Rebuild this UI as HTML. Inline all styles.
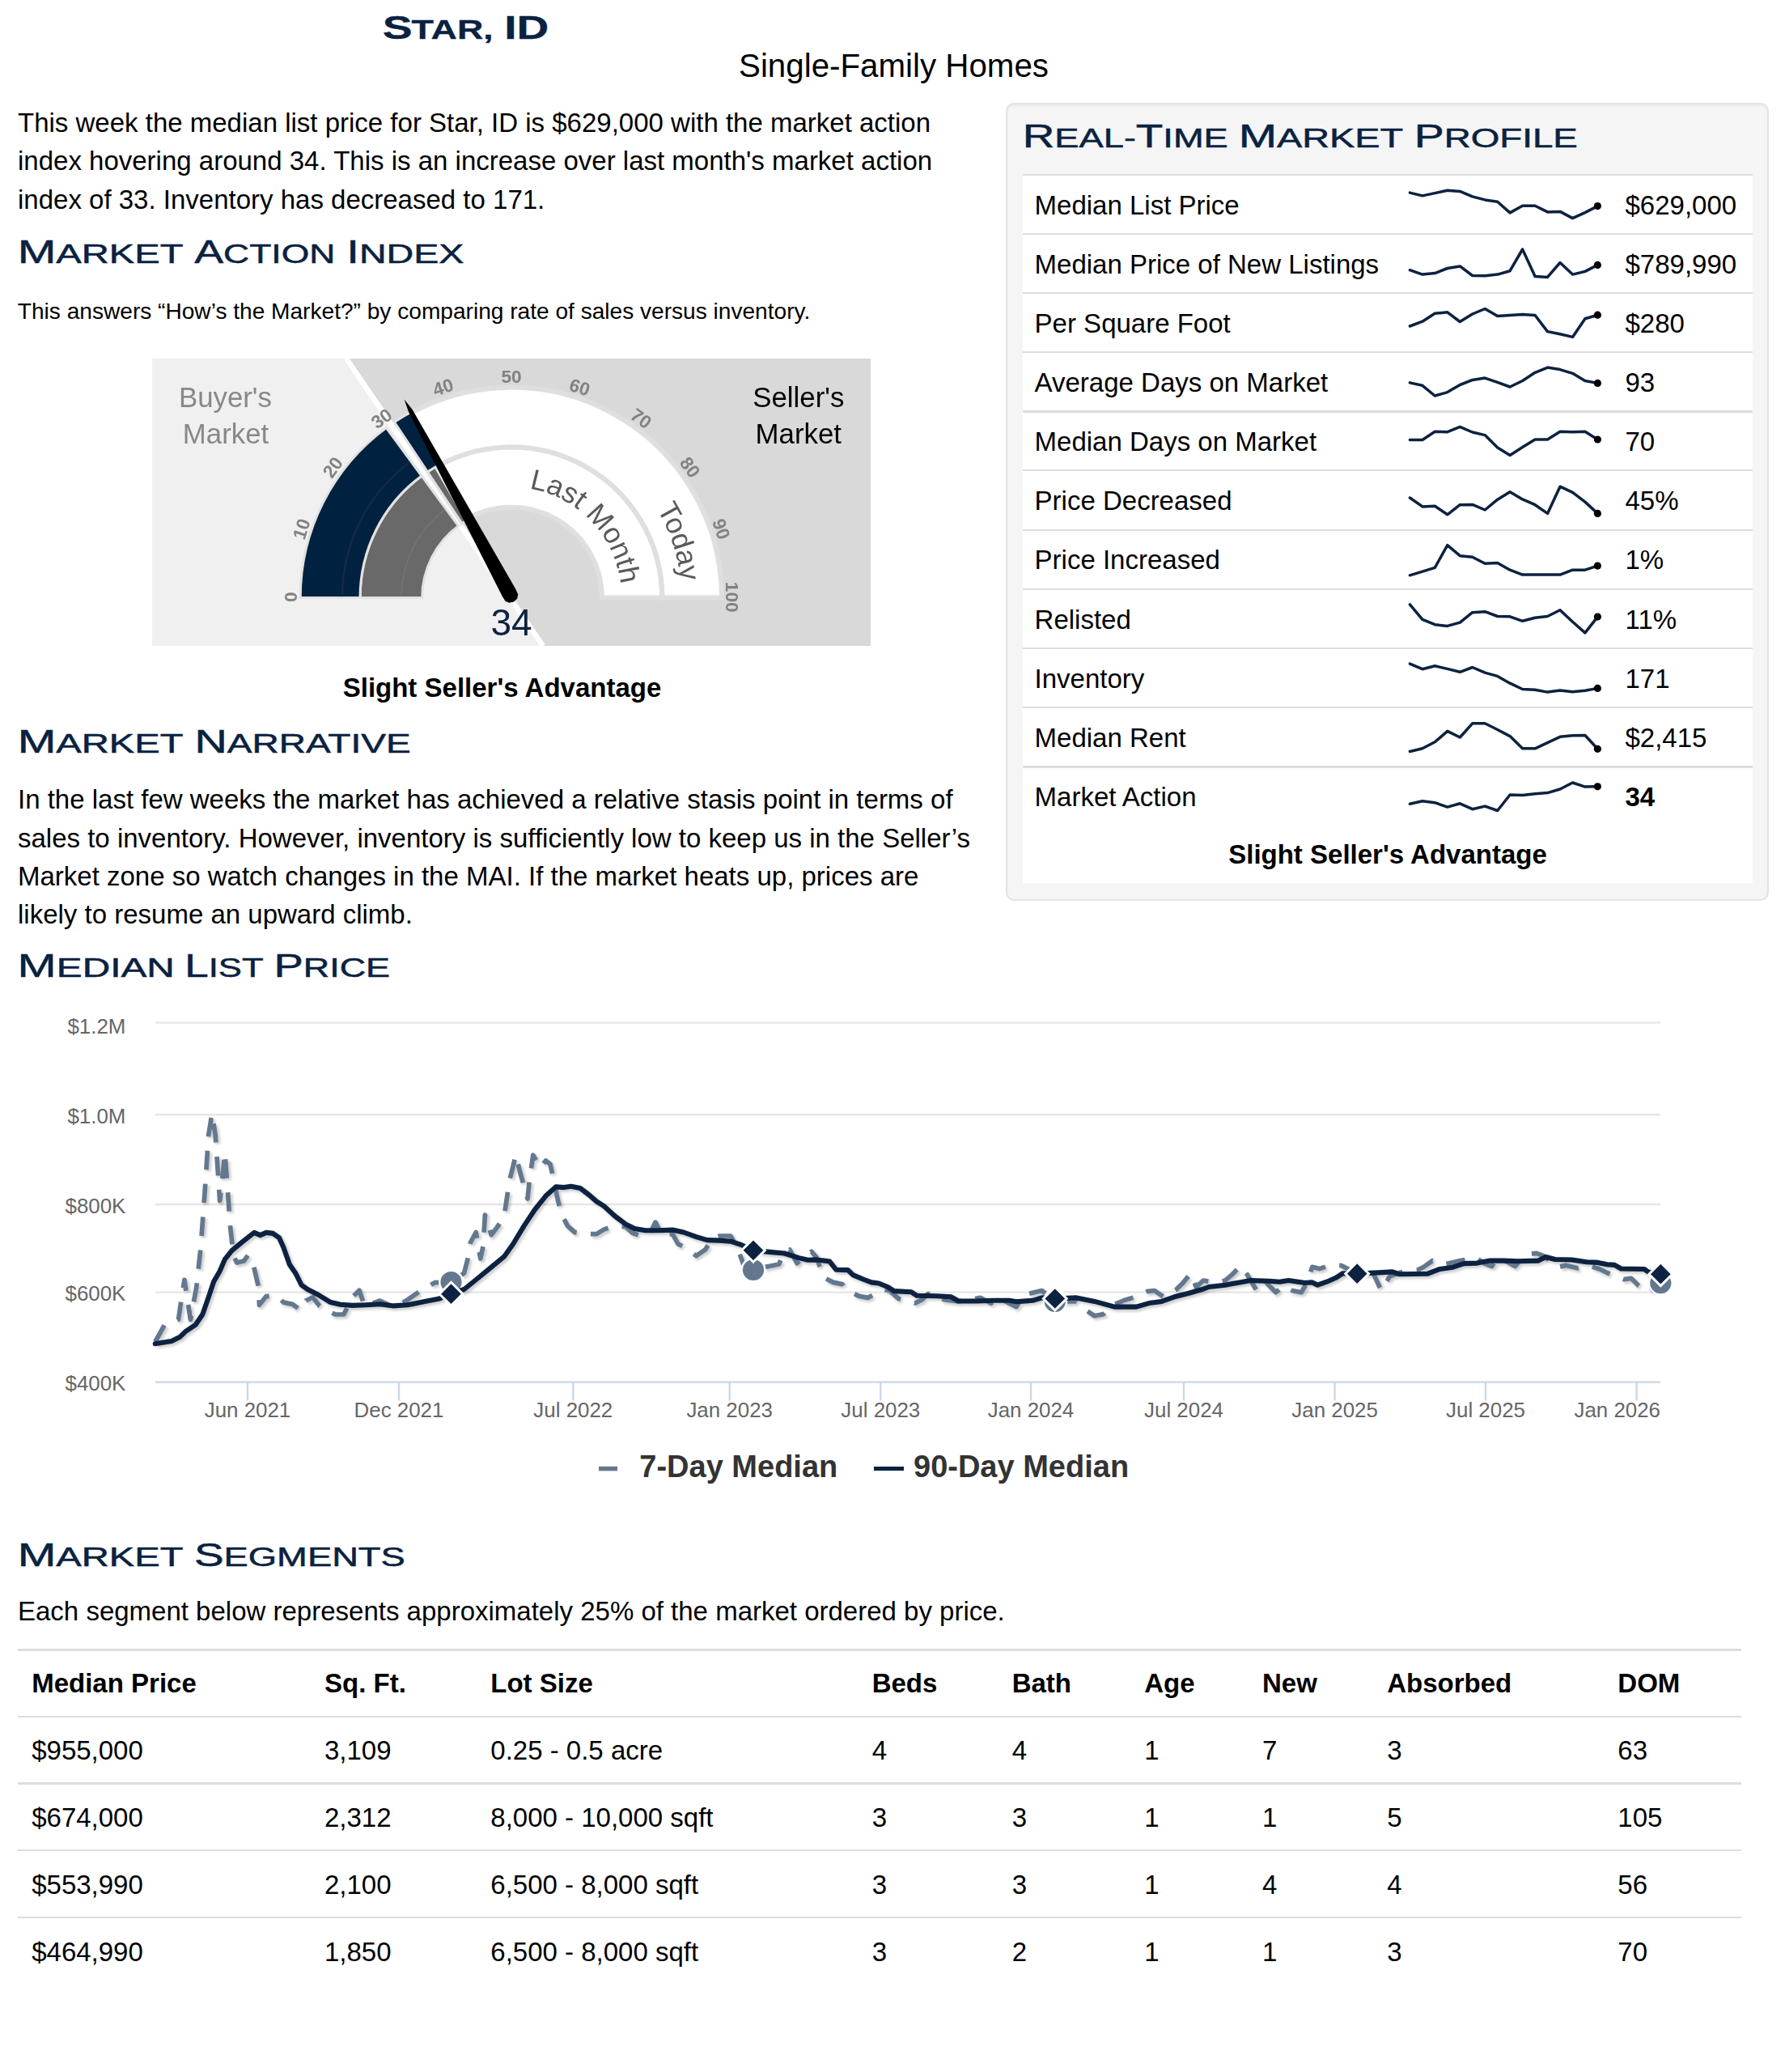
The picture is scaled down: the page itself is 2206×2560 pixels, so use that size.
<!DOCTYPE html>
<html lang="en"><head><meta charset="utf-8"><title>Star, ID - Single-Family Homes</title>
<style>
html,body{margin:0;padding:0;background:#fff;}
body{width:2206px;height:2560px;position:relative;overflow:hidden;font-family:"Liberation Sans",Arial,sans-serif;color:#000;}
.t{position:absolute;white-space:nowrap;margin:0;}
svg{position:absolute;left:0;top:0;overflow:visible;}
svg text{font-family:"Liberation Sans",Arial,sans-serif;}
.well{position:absolute;left:1243px;top:127.4px;width:939.2px;height:981.4px;background:#f5f5f5;border:2.4px solid #e3e3e3;border-radius:10px;box-shadow:inset 0 2px 3px rgba(0,0,0,.05);}
.rows{position:absolute;left:1264px;top:215px;width:901.5px;height:875.8px;background:#fff;}
.hr{position:absolute;height:2.4px;background:#ddd;}
</style></head><body>

<div class="well"></div><div class="rows"></div>
<div class="hr" style="left:1264px;top:214.8px;width:902px"></div>
<div class="hr" style="left:1264px;top:287.6px;width:902px"></div>
<div class="hr" style="left:1264px;top:360.6px;width:902px"></div>
<div class="hr" style="left:1264px;top:434.0px;width:902px"></div>
<div class="hr" style="left:1264px;top:507.3px;width:902px"></div>
<div class="hr" style="left:1264px;top:580.0px;width:902px"></div>
<div class="hr" style="left:1264px;top:653.5px;width:902px"></div>
<div class="hr" style="left:1264px;top:726.8px;width:902px"></div>
<div class="hr" style="left:1264px;top:800.0px;width:902px"></div>
<div class="hr" style="left:1264px;top:873.1px;width:902px"></div>
<div class="hr" style="left:1264px;top:946.4px;width:902px"></div>
<div class="t" style="left:1278.6px;top:233.7px;font-size:33.0px;line-height:39.6px;">Median List Price</div>
<div class="t" style="left:2008.5px;top:233.7px;font-size:33.0px;line-height:39.6px;">$629,000</div>
<div class="t" style="left:1278.6px;top:306.5px;font-size:33.0px;line-height:39.6px;">Median Price of New Listings</div>
<div class="t" style="left:2008.5px;top:306.5px;font-size:33.0px;line-height:39.6px;">$789,990</div>
<div class="t" style="left:1278.6px;top:379.5px;font-size:33.0px;line-height:39.6px;">Per Square Foot</div>
<div class="t" style="left:2008.5px;top:379.5px;font-size:33.0px;line-height:39.6px;">$280</div>
<div class="t" style="left:1278.6px;top:452.9px;font-size:33.0px;line-height:39.6px;">Average Days on Market</div>
<div class="t" style="left:2008.5px;top:452.9px;font-size:33.0px;line-height:39.6px;">93</div>
<div class="t" style="left:1278.6px;top:526.2px;font-size:33.0px;line-height:39.6px;">Median Days on Market</div>
<div class="t" style="left:2008.5px;top:526.2px;font-size:33.0px;line-height:39.6px;">70</div>
<div class="t" style="left:1278.6px;top:598.9px;font-size:33.0px;line-height:39.6px;">Price Decreased</div>
<div class="t" style="left:2008.5px;top:598.9px;font-size:33.0px;line-height:39.6px;">45%</div>
<div class="t" style="left:1278.6px;top:672.4px;font-size:33.0px;line-height:39.6px;">Price Increased</div>
<div class="t" style="left:2008.5px;top:672.4px;font-size:33.0px;line-height:39.6px;">1%</div>
<div class="t" style="left:1278.6px;top:745.7px;font-size:33.0px;line-height:39.6px;">Relisted</div>
<div class="t" style="left:2008.5px;top:745.7px;font-size:33.0px;line-height:39.6px;">11%</div>
<div class="t" style="left:1278.6px;top:818.9px;font-size:33.0px;line-height:39.6px;">Inventory</div>
<div class="t" style="left:2008.5px;top:818.9px;font-size:33.0px;line-height:39.6px;">171</div>
<div class="t" style="left:1278.6px;top:892.0px;font-size:33.0px;line-height:39.6px;">Median Rent</div>
<div class="t" style="left:2008.5px;top:892.0px;font-size:33.0px;line-height:39.6px;">$2,415</div>
<div class="t" style="left:1278.6px;top:965.3px;font-size:33.0px;line-height:39.6px;">Market Action</div>
<div class="t" style="left:2008.5px;top:965.3px;font-size:33.0px;line-height:39.6px;font-weight:bold;">34</div>
<div class="t" style="left:1715.0px;top:1035.5px;font-size:33.0px;line-height:39.6px;font-weight:bold;transform:translateX(-50%);">Slight Seller's Advantage</div>
<div class="t" style="left:1104.5px;top:57.9px;font-size:40.3px;line-height:48.4px;transform:translateX(-50%);">Single-Family Homes</div>
<div class="t" style="left:22.0px;top:132.3px;font-size:33.0px;line-height:39.6px;">This week the median list price for Star, ID is $629,000 with the market action</div>
<div class="t" style="left:22.0px;top:179.4px;font-size:33.0px;line-height:39.6px;">index hovering around 34. This is an increase over last month's market action</div>
<div class="t" style="left:22.0px;top:226.5px;font-size:33.0px;line-height:39.6px;">index of 33. Inventory has decreased to 171.</div>
<div class="t" style="left:21.8px;top:367.9px;font-size:28.1px;line-height:33.7px;">This answers “How’s the Market?” by comparing rate of sales versus inventory.</div>
<div class="t" style="left:620.5px;top:830.1px;font-size:33.0px;line-height:39.6px;font-weight:bold;transform:translateX(-50%);">Slight Seller's Advantage</div>
<div class="t" style="left:22.0px;top:968.3px;font-size:33.0px;line-height:39.6px;">In the last few weeks the market has achieved a relative stasis point in terms of</div>
<div class="t" style="left:22.0px;top:1015.5px;font-size:33.0px;line-height:39.6px;">sales to inventory. However, inventory is sufficiently low to keep us in the Seller’s</div>
<div class="t" style="left:22.0px;top:1062.7px;font-size:33.0px;line-height:39.6px;">Market zone so watch changes in the MAI. If the market heats up, prices are</div>
<div class="t" style="left:22.0px;top:1109.9px;font-size:33.0px;line-height:39.6px;">likely to resume an upward climb.</div>
<div class="t" style="left:22.0px;top:1970.6px;font-size:33.0px;line-height:39.6px;">Each segment below represents approximately 25% of the market ordered by price.</div>
<div class="hr" style="left:22px;top:2037.3px;width:2130px"></div>
<div class="hr" style="left:22px;top:2120.0px;width:2130px"></div>
<div class="hr" style="left:22px;top:2202.4px;width:2130px"></div>
<div class="hr" style="left:22px;top:2285.0px;width:2130px"></div>
<div class="hr" style="left:22px;top:2367.6px;width:2130px"></div>
<div class="t" style="left:39.2px;top:2060.1px;font-size:33.0px;line-height:39.6px;font-weight:bold;">Median Price</div>
<div class="t" style="left:401.0px;top:2060.1px;font-size:33.0px;line-height:39.6px;font-weight:bold;">Sq. Ft.</div>
<div class="t" style="left:606.3px;top:2060.1px;font-size:33.0px;line-height:39.6px;font-weight:bold;">Lot Size</div>
<div class="t" style="left:1077.7px;top:2060.1px;font-size:33.0px;line-height:39.6px;font-weight:bold;">Beds</div>
<div class="t" style="left:1250.7px;top:2060.1px;font-size:33.0px;line-height:39.6px;font-weight:bold;">Bath</div>
<div class="t" style="left:1414.2px;top:2060.1px;font-size:33.0px;line-height:39.6px;font-weight:bold;">Age</div>
<div class="t" style="left:1560.0px;top:2060.1px;font-size:33.0px;line-height:39.6px;font-weight:bold;">New</div>
<div class="t" style="left:1714.2px;top:2060.1px;font-size:33.0px;line-height:39.6px;font-weight:bold;">Absorbed</div>
<div class="t" style="left:1999.3px;top:2060.1px;font-size:33.0px;line-height:39.6px;font-weight:bold;">DOM</div>
<div class="t" style="left:39.2px;top:2142.8px;font-size:33.0px;line-height:39.6px;">$955,000</div>
<div class="t" style="left:401.0px;top:2142.8px;font-size:33.0px;line-height:39.6px;">3,109</div>
<div class="t" style="left:606.3px;top:2142.8px;font-size:33.0px;line-height:39.6px;">0.25 - 0.5 acre</div>
<div class="t" style="left:1077.7px;top:2142.8px;font-size:33.0px;line-height:39.6px;">4</div>
<div class="t" style="left:1250.7px;top:2142.8px;font-size:33.0px;line-height:39.6px;">4</div>
<div class="t" style="left:1414.2px;top:2142.8px;font-size:33.0px;line-height:39.6px;">1</div>
<div class="t" style="left:1560.0px;top:2142.8px;font-size:33.0px;line-height:39.6px;">7</div>
<div class="t" style="left:1714.2px;top:2142.8px;font-size:33.0px;line-height:39.6px;">3</div>
<div class="t" style="left:1999.3px;top:2142.8px;font-size:33.0px;line-height:39.6px;">63</div>
<div class="t" style="left:39.2px;top:2225.6px;font-size:33.0px;line-height:39.6px;">$674,000</div>
<div class="t" style="left:401.0px;top:2225.6px;font-size:33.0px;line-height:39.6px;">2,312</div>
<div class="t" style="left:606.3px;top:2225.6px;font-size:33.0px;line-height:39.6px;">8,000 - 10,000 sqft</div>
<div class="t" style="left:1077.7px;top:2225.6px;font-size:33.0px;line-height:39.6px;">3</div>
<div class="t" style="left:1250.7px;top:2225.6px;font-size:33.0px;line-height:39.6px;">3</div>
<div class="t" style="left:1414.2px;top:2225.6px;font-size:33.0px;line-height:39.6px;">1</div>
<div class="t" style="left:1560.0px;top:2225.6px;font-size:33.0px;line-height:39.6px;">1</div>
<div class="t" style="left:1714.2px;top:2225.6px;font-size:33.0px;line-height:39.6px;">5</div>
<div class="t" style="left:1999.3px;top:2225.6px;font-size:33.0px;line-height:39.6px;">105</div>
<div class="t" style="left:39.2px;top:2308.8px;font-size:33.0px;line-height:39.6px;">$553,990</div>
<div class="t" style="left:401.0px;top:2308.8px;font-size:33.0px;line-height:39.6px;">2,100</div>
<div class="t" style="left:606.3px;top:2308.8px;font-size:33.0px;line-height:39.6px;">6,500 - 8,000 sqft</div>
<div class="t" style="left:1077.7px;top:2308.8px;font-size:33.0px;line-height:39.6px;">3</div>
<div class="t" style="left:1250.7px;top:2308.8px;font-size:33.0px;line-height:39.6px;">3</div>
<div class="t" style="left:1414.2px;top:2308.8px;font-size:33.0px;line-height:39.6px;">1</div>
<div class="t" style="left:1560.0px;top:2308.8px;font-size:33.0px;line-height:39.6px;">4</div>
<div class="t" style="left:1714.2px;top:2308.8px;font-size:33.0px;line-height:39.6px;">4</div>
<div class="t" style="left:1999.3px;top:2308.8px;font-size:33.0px;line-height:39.6px;">56</div>
<div class="t" style="left:39.2px;top:2391.6px;font-size:33.0px;line-height:39.6px;">$464,990</div>
<div class="t" style="left:401.0px;top:2391.6px;font-size:33.0px;line-height:39.6px;">1,850</div>
<div class="t" style="left:606.3px;top:2391.6px;font-size:33.0px;line-height:39.6px;">6,500 - 8,000 sqft</div>
<div class="t" style="left:1077.7px;top:2391.6px;font-size:33.0px;line-height:39.6px;">3</div>
<div class="t" style="left:1250.7px;top:2391.6px;font-size:33.0px;line-height:39.6px;">2</div>
<div class="t" style="left:1414.2px;top:2391.6px;font-size:33.0px;line-height:39.6px;">1</div>
<div class="t" style="left:1560.0px;top:2391.6px;font-size:33.0px;line-height:39.6px;">1</div>
<div class="t" style="left:1714.2px;top:2391.6px;font-size:33.0px;line-height:39.6px;">3</div>
<div class="t" style="left:1999.3px;top:2391.6px;font-size:33.0px;line-height:39.6px;">70</div>
<svg width="2206" height="2560" viewBox="0 0 2206 2560">
<defs><filter id="soft" x="-5%" y="-5%" width="110%" height="110%"><feGaussianBlur stdDeviation="0.7"/></filter><filter id="sh" x="-5%" y="-20%" width="110%" height="140%"><feGaussianBlur stdDeviation="1.6"/></filter></defs>
<text y="47.9" font-weight="bold" fill="#0a2240" stroke="#0a2240" stroke-width="0.3"><tspan x="472.78" textLength="36.87" lengthAdjust="spacingAndGlyphs"><tspan font-size="40.4">S</tspan></tspan><tspan x="508.48" textLength="101.08" lengthAdjust="spacingAndGlyphs"><tspan font-size="46.429" style="font-variant:small-caps">tar</tspan><tspan font-size="32.5">,</tspan></tspan> <tspan x="623.19" textLength="55.01" lengthAdjust="spacingAndGlyphs"><tspan font-size="40.4">ID</tspan></tspan></text>
<text y="324.7" font-weight="normal" fill="#0a2240" stroke="#0a2240" stroke-width="0.5"><tspan x="21.68" textLength="204.95" lengthAdjust="spacingAndGlyphs"><tspan font-size="40.0">M</tspan><tspan font-size="46.571" style="font-variant:small-caps">arket</tspan></tspan> <tspan x="240.20" textLength="174.06" lengthAdjust="spacingAndGlyphs"><tspan font-size="40.0">A</tspan><tspan font-size="46.571" style="font-variant:small-caps">ction</tspan></tspan> <tspan x="428.25" textLength="145.19" lengthAdjust="spacingAndGlyphs"><tspan font-size="40.0">I</tspan><tspan font-size="46.571" style="font-variant:small-caps">ndex</tspan></tspan></text>
<text y="181.6" font-weight="normal" fill="#0a2240" stroke="#0a2240" stroke-width="0.5"><tspan x="1263.70" textLength="254.13" lengthAdjust="spacingAndGlyphs"><tspan font-size="40.0">R</tspan><tspan font-size="46.571" style="font-variant:small-caps">eal</tspan><tspan font-size="32.6">-</tspan><tspan font-size="40.0">T</tspan><tspan font-size="46.571" style="font-variant:small-caps">ime</tspan></tspan> <tspan x="1530.69" textLength="203.52" lengthAdjust="spacingAndGlyphs"><tspan font-size="40.0">M</tspan><tspan font-size="46.571" style="font-variant:small-caps">arket</tspan></tspan> <tspan x="1747.69" textLength="202.16" lengthAdjust="spacingAndGlyphs"><tspan font-size="40.0">P</tspan><tspan font-size="46.571" style="font-variant:small-caps">rofile</tspan></tspan></text>
<text y="930.4" font-weight="normal" fill="#0a2240" stroke="#0a2240" stroke-width="0.5"><tspan x="21.68" textLength="204.95" lengthAdjust="spacingAndGlyphs"><tspan font-size="40.0">M</tspan><tspan font-size="46.571" style="font-variant:small-caps">arket</tspan></tspan> <tspan x="240.50" textLength="267.15" lengthAdjust="spacingAndGlyphs"><tspan font-size="40.0">N</tspan><tspan font-size="46.571" style="font-variant:small-caps">arrative</tspan></tspan></text>
<text y="1207.2" font-weight="normal" fill="#0a2240" stroke="#0a2240" stroke-width="0.5"><tspan x="21.60" textLength="194.15" lengthAdjust="spacingAndGlyphs"><tspan font-size="40.0">M</tspan><tspan font-size="46.571" style="font-variant:small-caps">edian</tspan></tspan> <tspan x="228.23" textLength="97.40" lengthAdjust="spacingAndGlyphs"><tspan font-size="40.0">L</tspan><tspan font-size="46.571" style="font-variant:small-caps">ist</tspan></tspan> <tspan x="338.40" textLength="143.66" lengthAdjust="spacingAndGlyphs"><tspan font-size="40.0">P</tspan><tspan font-size="46.571" style="font-variant:small-caps">rice</tspan></tspan></text>
<text y="1934.7" font-weight="normal" fill="#0a2240" stroke="#0a2240" stroke-width="0.5"><tspan x="21.68" textLength="204.95" lengthAdjust="spacingAndGlyphs"><tspan font-size="40.0">M</tspan><tspan font-size="46.571" style="font-variant:small-caps">arket</tspan></tspan> <tspan x="239.97" textLength="260.85" lengthAdjust="spacingAndGlyphs"><tspan font-size="40.0">S</tspan><tspan font-size="46.571" style="font-variant:small-caps">egments</tspan></tspan></text>
<g filter="url(#soft)">
<rect x="188" y="443" width="888" height="355" fill="#d9d9d9"/>
<polygon points="188,443 428.0,443 671.0,798 188,798" fill="#f0f0f0"/>
<line x1="428" y1="443" x2="671" y2="798" stroke="#fff" stroke-width="6.6"/>
<path d="M529.8 583.0 A186.2 186.2 0 0 1 818.2 738.6 L743.9 738.6 A111.9 111.9 0 0 0 570.6 645.1 Z" fill="#fff" stroke="#dfdfdf" stroke-width="6"/>
<path d="M489.3 521.3 A260.0 260.0 0 0 1 892.0 738.6 L818.4 738.6 A186.4 186.4 0 0 0 529.7 582.8 Z" fill="#fff" stroke="#dfdfdf" stroke-width="6"/>
<path d="M445.1 738.6 A186.9 186.9 0 0 1 521.2 588.1 L566.6 649.8 A110.3 110.3 0 0 0 521.7 738.6 Z" fill="#696969" stroke="#e2e2e2" stroke-width="3"/>
<path d="M528.4 583.0 A186.9 186.9 0 0 1 537.9 577.1 L576.5 643.3 A110.3 110.3 0 0 0 570.9 646.8 Z" fill="#696969" stroke="#e2e2e2" stroke-width="3"/>
<path d="M371.2 738.6 A260.8 260.8 0 0 1 477.4 528.6 L521.1 588.0 A187.0 187.0 0 0 0 445.0 738.6 Z" fill="#06213f" stroke="#e2e2e2" stroke-width="3"/>
<path d="M487.4 521.5 A260.8 260.8 0 0 1 507.8 509.3 L542.9 574.2 A187.0 187.0 0 0 0 528.4 583.0 Z" fill="#06213f" stroke="#e2e2e2" stroke-width="3"/>
<path d="M423.0 735.8 A209.0 209.0 0 0 1 506.5 570.7" fill="none" stroke="#122b4a" stroke-width="2"/>
<path d="M496.0 735.7 A136.0 136.0 0 0 1 549.7 629.6" fill="none" stroke="#727272" stroke-width="2"/>
<path id="arcLM" d="M496.0 737.8 A136 136 0 0 1 768.0 737.8" fill="none"/>
<path id="arcTD" d="M422.0 737.8 A210 210 0 0 1 842.0 737.8" fill="none"/>
<text font-size="35.5" fill="#5a5a5a" text-anchor="end"><textPath href="#arcLM" startOffset="96.3%">Last Month</textPath></text>
<text font-size="35.5" fill="#5a5a5a" text-anchor="end"><textPath href="#arcTD" startOffset="97%">Today</textPath></text>
<text x="359.0" y="737.8" font-size="22.7" font-weight="bold" fill="#828282" text-anchor="middle" dy="0.355em" transform="rotate(-90.0 359.0 737.8)">0</text>
<text x="372.4" y="653.4" font-size="22.7" font-weight="bold" fill="#828282" text-anchor="middle" dy="0.355em" transform="rotate(-72.0 372.4 653.4)">10</text>
<text x="411.1" y="577.3" font-size="22.7" font-weight="bold" fill="#828282" text-anchor="middle" dy="0.355em" transform="rotate(-54.0 411.1 577.3)">20</text>
<text x="471.5" y="516.9" font-size="22.7" font-weight="bold" fill="#828282" text-anchor="middle" dy="0.355em" transform="rotate(-36.0 471.5 516.9)">30</text>
<text x="547.6" y="478.2" font-size="22.7" font-weight="bold" fill="#828282" text-anchor="middle" dy="0.355em" transform="rotate(-18.0 547.6 478.2)">40</text>
<text x="632.0" y="464.8" font-size="22.7" font-weight="bold" fill="#828282" text-anchor="middle" dy="0.355em" transform="rotate(0.0 632.0 464.8)">50</text>
<text x="716.4" y="478.2" font-size="22.7" font-weight="bold" fill="#828282" text-anchor="middle" dy="0.355em" transform="rotate(18.0 716.4 478.2)">60</text>
<text x="792.5" y="516.9" font-size="22.7" font-weight="bold" fill="#828282" text-anchor="middle" dy="0.355em" transform="rotate(36.0 792.5 516.9)">70</text>
<text x="852.9" y="577.3" font-size="22.7" font-weight="bold" fill="#828282" text-anchor="middle" dy="0.355em" transform="rotate(54.0 852.9 577.3)">80</text>
<text x="891.6" y="653.4" font-size="22.7" font-weight="bold" fill="#828282" text-anchor="middle" dy="0.355em" transform="rotate(72.0 891.6 653.4)">90</text>
<text x="905.0" y="737.8" font-size="22.7" font-weight="bold" fill="#828282" text-anchor="middle" dy="0.355em" transform="rotate(90.0 905.0 737.8)">100</text>
<polygon points="499.6,493.4 509.6,506.1 637.4,728.0 640.2,734.5 639.2,739.6 635.1,743.5 629.5,744.8 624.7,742.9 620.9,737.0 504.9,508.7" fill="#000"/>
<text x="632" y="784.7" font-size="46" fill="#0a2240" text-anchor="middle">34</text>
<text x="278.4" y="502.8" font-size="34.8" fill="#888" text-anchor="middle">Buyer's</text>
<text x="279.0" y="547.7" font-size="34.8" fill="#888" text-anchor="middle">Market</text>
<text x="986.8" y="503.4" font-size="34.8" fill="#000" text-anchor="middle">Seller's</text>
<text x="986.8" y="547.6" font-size="34.8" fill="#000" text-anchor="middle">Market</text>
</g>
<g filter="url(#soft)">
<polyline points="1742.4,238.1 1757.9,241.9 1773.3,238.6 1788.8,235.2 1804.3,236.4 1819.7,242.9 1835.2,246.9 1850.7,249.2 1866.1,262.9 1881.6,254.2 1897.1,254.2 1912.5,261.9 1928.0,261.4 1943.5,269.6 1958.9,262.6 1974.4,254.6" fill="none" stroke="#0a2240" stroke-width="3.5" stroke-linejoin="round" stroke-linecap="round"/>
<circle cx="1974.4" cy="254.6" r="4.6" fill="#000"/>
<polyline points="1742.4,333.7 1757.9,339.1 1773.3,337.6 1788.8,331.5 1804.3,328.9 1819.7,340.5 1835.2,340.8 1850.7,339.1 1866.1,334.7 1881.6,308.0 1897.1,341.5 1912.5,342.4 1928.0,324.5 1943.5,339.1 1958.9,335.4 1974.4,327.4" fill="none" stroke="#0a2240" stroke-width="3.5" stroke-linejoin="round" stroke-linecap="round"/>
<circle cx="1974.4" cy="327.4" r="4.6" fill="#000"/>
<polyline points="1742.4,403.0 1757.9,397.2 1773.3,387.3 1788.8,385.8 1804.3,397.5 1819.7,388.0 1835.2,381.5 1850.7,390.6 1866.1,389.5 1881.6,388.5 1897.1,389.5 1912.5,409.6 1928.0,412.8 1943.5,416.4 1958.9,393.8 1974.4,389.2" fill="none" stroke="#0a2240" stroke-width="3.5" stroke-linejoin="round" stroke-linecap="round"/>
<circle cx="1974.4" cy="389.2" r="4.6" fill="#000"/>
<polyline points="1742.4,472.9 1757.9,476.3 1773.3,489.0 1788.8,484.6 1804.3,475.5 1819.7,469.4 1835.2,467.1 1850.7,472.3 1866.1,478.0 1881.6,470.5 1897.1,460.3 1912.5,454.1 1928.0,456.6 1943.5,461.3 1958.9,470.5 1974.4,473.4" fill="none" stroke="#0a2240" stroke-width="3.5" stroke-linejoin="round" stroke-linecap="round"/>
<circle cx="1974.4" cy="473.4" r="4.6" fill="#000"/>
<polyline points="1742.4,543.5 1757.9,543.5 1773.3,533.3 1788.8,533.7 1804.3,527.4 1819.7,534.0 1835.2,537.6 1850.7,552.9 1866.1,562.4 1881.6,552.6 1897.1,543.0 1912.5,543.0 1928.0,533.3 1943.5,533.7 1958.9,533.3 1974.4,543.0" fill="none" stroke="#0a2240" stroke-width="3.5" stroke-linejoin="round" stroke-linecap="round"/>
<circle cx="1974.4" cy="543.0" r="4.6" fill="#000"/>
<polyline points="1742.4,615.0 1757.9,625.9 1773.3,625.2 1788.8,635.8 1804.3,623.7 1819.7,623.4 1835.2,630.0 1850.7,617.2 1866.1,607.7 1881.6,616.9 1897.1,623.7 1912.5,634.4 1928.0,601.2 1943.5,608.4 1958.9,620.1 1974.4,634.4" fill="none" stroke="#0a2240" stroke-width="3.5" stroke-linejoin="round" stroke-linecap="round"/>
<circle cx="1974.4" cy="634.4" r="4.6" fill="#000"/>
<polyline points="1742.4,710.8 1757.9,706.1 1773.3,701.3 1788.8,673.6 1804.3,686.7 1819.7,688.2 1835.2,696.2 1850.7,695.5 1866.1,704.2 1881.6,710.1 1897.1,710.1 1912.5,710.1 1928.0,710.1 1943.5,704.2 1958.9,704.2 1974.4,699.1" fill="none" stroke="#0a2240" stroke-width="3.5" stroke-linejoin="round" stroke-linecap="round"/>
<circle cx="1974.4" cy="699.1" r="4.6" fill="#000"/>
<polyline points="1742.4,746.9 1757.9,765.4 1773.3,771.7 1788.8,773.4 1804.3,769.1 1819.7,756.7 1835.2,755.7 1850.7,761.5 1866.1,761.8 1881.6,767.3 1897.1,763.3 1912.5,761.5 1928.0,753.8 1943.5,768.3 1958.9,781.9 1974.4,762.1" fill="none" stroke="#0a2240" stroke-width="3.5" stroke-linejoin="round" stroke-linecap="round"/>
<circle cx="1974.4" cy="762.1" r="4.6" fill="#000"/>
<polyline points="1742.4,820.1 1757.9,826.7 1773.3,822.8 1788.8,826.4 1804.3,830.3 1819.7,824.5 1835.2,831.1 1850.7,835.4 1866.1,844.2 1881.6,851.5 1897.1,852.2 1912.5,855.1 1928.0,852.9 1943.5,854.8 1958.9,853.3 1974.4,850.4" fill="none" stroke="#0a2240" stroke-width="3.5" stroke-linejoin="round" stroke-linecap="round"/>
<circle cx="1974.4" cy="850.4" r="4.6" fill="#000"/>
<polyline points="1742.4,928.5 1757.9,924.8 1773.3,916.8 1788.8,903.4 1804.3,911.0 1819.7,893.8 1835.2,893.8 1850.7,901.5 1866.1,909.6 1881.6,924.8 1897.1,924.8 1912.5,917.6 1928.0,910.3 1943.5,908.8 1958.9,908.5 1974.4,925.3" fill="none" stroke="#0a2240" stroke-width="3.5" stroke-linejoin="round" stroke-linecap="round"/>
<circle cx="1974.4" cy="925.3" r="4.6" fill="#000"/>
<polyline points="1742.4,993.2 1757.9,989.8 1773.3,991.7 1788.8,997.1 1804.3,992.8 1819.7,999.7 1835.2,996.1 1850.7,1001.5 1866.1,982.0 1881.6,982.6 1897.1,980.8 1912.5,979.6 1928.0,975.0 1943.5,967.0 1958.9,972.1 1974.4,971.8" fill="none" stroke="#0a2240" stroke-width="3.5" stroke-linejoin="round" stroke-linecap="round"/>
<circle cx="1974.4" cy="971.8" r="4.6" fill="#000"/>
</g>
<g>
<line x1="192" y1="1263.6" x2="2052" y2="1263.6" stroke="#e6e6e6" stroke-width="2.4"/>
<line x1="192" y1="1377.2" x2="2052" y2="1377.2" stroke="#e6e6e6" stroke-width="2.4"/>
<line x1="192" y1="1488.0" x2="2052" y2="1488.0" stroke="#e6e6e6" stroke-width="2.4"/>
<line x1="192" y1="1596.6" x2="2052" y2="1596.6" stroke="#e6e6e6" stroke-width="2.4"/>
<line x1="192" y1="1707.6" x2="2052" y2="1707.6" stroke="#ccd6eb" stroke-width="2.4"/>
<line x1="306.0" y1="1707.6" x2="306.0" y2="1730.5" stroke="#ccd6eb" stroke-width="2.4"/>
<line x1="493.0" y1="1707.6" x2="493.0" y2="1730.5" stroke="#ccd6eb" stroke-width="2.4"/>
<line x1="708.3" y1="1707.6" x2="708.3" y2="1730.5" stroke="#ccd6eb" stroke-width="2.4"/>
<line x1="901.7" y1="1707.6" x2="901.7" y2="1730.5" stroke="#ccd6eb" stroke-width="2.4"/>
<line x1="1088.3" y1="1707.6" x2="1088.3" y2="1730.5" stroke="#ccd6eb" stroke-width="2.4"/>
<line x1="1274.0" y1="1707.6" x2="1274.0" y2="1730.5" stroke="#ccd6eb" stroke-width="2.4"/>
<line x1="1463.0" y1="1707.6" x2="1463.0" y2="1730.5" stroke="#ccd6eb" stroke-width="2.4"/>
<line x1="1649.6" y1="1707.6" x2="1649.6" y2="1730.5" stroke="#ccd6eb" stroke-width="2.4"/>
<line x1="1836.0" y1="1707.6" x2="1836.0" y2="1730.5" stroke="#ccd6eb" stroke-width="2.4"/>
<line x1="2022.6" y1="1707.6" x2="2022.6" y2="1730.5" stroke="#ccd6eb" stroke-width="2.4"/>
<text x="155.4" y="1276.5" font-size="25.9" fill="#666" text-anchor="end">$1.2M</text>
<text x="155.4" y="1387.7" font-size="25.9" fill="#666" text-anchor="end">$1.0M</text>
<text x="155.4" y="1498.5" font-size="25.9" fill="#666" text-anchor="end">$800K</text>
<text x="155.4" y="1607.1" font-size="25.9" fill="#666" text-anchor="end">$600K</text>
<text x="155.4" y="1718.1" font-size="25.9" fill="#666" text-anchor="end">$400K</text>
<text x="306.0" y="1751" font-size="25.9" fill="#666" text-anchor="middle">Jun 2021</text>
<text x="493.0" y="1751" font-size="25.9" fill="#666" text-anchor="middle">Dec 2021</text>
<text x="708.3" y="1751" font-size="25.9" fill="#666" text-anchor="middle">Jul 2022</text>
<text x="901.7" y="1751" font-size="25.9" fill="#666" text-anchor="middle">Jan 2023</text>
<text x="1088.3" y="1751" font-size="25.9" fill="#666" text-anchor="middle">Jul 2023</text>
<text x="1274.0" y="1751" font-size="25.9" fill="#666" text-anchor="middle">Jan 2024</text>
<text x="1463.0" y="1751" font-size="25.9" fill="#666" text-anchor="middle">Jul 2024</text>
<text x="1649.6" y="1751" font-size="25.9" fill="#666" text-anchor="middle">Jan 2025</text>
<text x="1836.0" y="1751" font-size="25.9" fill="#666" text-anchor="middle">Jul 2025</text>
<text x="2052" y="1751" font-size="25.9" fill="#666" text-anchor="end">Jan 2026</text>
<g filter="url(#sh)" opacity="0.18" transform="translate(2.3,2.3)">
<polyline points="191.7,1658.0 203.4,1636.8 220.5,1630.4 223.6,1609.0 227.9,1581.4 235.4,1630.4 242.8,1590.0 248.1,1541.0 253.5,1466.5 257.7,1402.6 262.0,1376.0 266.2,1402.6 269.4,1449.4 271.6,1483.5 274.7,1458.0 277.9,1423.9 281.1,1466.5 284.3,1513.3 288.6,1551.6 292.8,1560.1 301.4,1558.0 306.7,1550.6 313.0,1562.3 319.5,1590.0 320.5,1612.3 329.0,1601.6 341.8,1600.6 350.3,1609.1 361.0,1611.2 371.6,1618.7 378.0,1607.0 386.5,1602.7 395.0,1613.4 405.7,1619.7 414.2,1624.0 424.8,1624.0 429.1,1615.5 434.4,1603.8 444.0,1594.2 450.4,1613.4 469.5,1607.0 486.6,1615.5 503.6,1605.9 520.6,1594.2 537.7,1584.6 557.5,1584.0 573.6,1572.9 578.1,1555.0 581.5,1534.8 588.2,1522.5 593.8,1555.0 597.1,1539.3 599.4,1501.2 607.2,1525.8 613.9,1516.9 622.9,1503.4 626.3,1481.0 629.6,1458.6 637.5,1427.2 643.1,1449.6 652.0,1481.0 654.3,1458.6 658.8,1427.2 667.7,1442.9 674.5,1433.9 680.0,1438.4 684.5,1458.6 689.0,1481.0 693.5,1498.9 701.3,1514.6 710.3,1522.5 723.8,1524.7 737.2,1524.7 746.2,1519.1 759.6,1514.6 773.1,1515.7 782.0,1523.6 793.2,1527.0 802.2,1525.8 810.0,1510.1 817.9,1525.8 831.3,1524.7 838.0,1537.0 849.2,1542.6 860.4,1551.6 871.6,1543.8 880.6,1530.3 889.6,1527.0 903.0,1527.0 912.0,1543.8 918.7,1561.7 930.8,1568.7 951.4,1564.2 962.6,1562.0 968.2,1549.6 976.0,1544.0 985.0,1560.8 991.7,1554.1 1002.9,1546.3 1009.6,1554.1 1015.2,1572.0 1018.6,1578.8 1029.8,1584.4 1041.0,1586.6 1045.5,1593.3 1061.2,1601.2 1072.4,1603.4 1079.1,1600.0 1090.3,1593.3 1099.3,1594.5 1110.5,1604.5 1130.6,1610.1 1139.6,1605.7 1146.3,1598.9 1155.3,1597.8 1166.5,1605.7 1184.4,1607.9 1211.3,1603.4 1224.8,1610.1 1233.7,1603.4 1242.7,1607.9 1256.1,1614.6 1265.1,1600.0 1274.1,1597.8 1287.5,1594.5 1303.9,1608.0 1330.3,1607.9 1339.3,1616.9 1352.7,1625.8 1363.9,1623.6 1375.2,1612.4 1388.6,1606.8 1406.5,1601.2 1417.7,1595.6 1426.7,1594.5 1437.9,1602.3 1453.6,1593.3 1462.5,1584.4 1471.5,1573.2 1478.2,1590.0 1487.2,1582.1 1500.6,1584.4 1514.1,1582.1 1523.1,1574.3 1533.1,1564.2 1541.0,1574.3 1547.7,1585.5 1554.4,1596.7 1565.6,1585.5 1576.8,1596.7 1585.8,1588.9 1597.0,1594.5 1608.2,1596.7 1614.9,1585.5 1621.7,1565.3 1630.6,1567.6 1644.1,1563.1 1657.5,1563.5 1677.2,1573.7 1696.8,1572.5 1707.1,1594.4 1717.4,1577.1 1735.8,1570.3 1751.9,1569.1 1758.8,1565.7 1770.2,1557.6 1784.0,1562.2 1804.7,1557.6 1824.2,1553.7 1834.6,1561.1 1843.8,1564.5 1850.6,1554.2 1862.1,1558.8 1872.5,1564.5 1880.5,1555.3 1889.7,1549.6 1898.9,1548.4 1908.1,1551.9 1917.3,1559.9 1924.1,1565.7 1935.6,1563.4 1949.4,1566.8 1963.2,1563.4 1977.0,1568.0 1986.2,1572.5 1997.6,1577.1 2006.8,1580.6 2016.0,1579.4 2025.2,1588.6 2039.0,1596.7 2052.3,1585.2" fill="none" stroke="#000" stroke-width="7" stroke-dasharray="23.5 17.5" stroke-linejoin="round"/>
<polyline points="191.7,1660.2 211.9,1657.0 222.6,1651.7 229.0,1645.3 241.7,1636.8 250.3,1624.0 257.7,1602.7 264.1,1583.5 271.5,1570.8 277.9,1555.9 286.5,1545.2 299.2,1534.6 314.1,1522.9 321.6,1526.1 329.0,1522.9 337.5,1523.9 345.0,1529.3 350.3,1541.0 357.8,1562.3 365.2,1572.9 372.7,1587.8 380.1,1593.1 392.9,1599.5 407.8,1608.7 420.6,1611.7 435.5,1612.9 452.5,1612.3 469.5,1611.2 486.6,1613.4 503.6,1612.3 524.9,1608.0 541.9,1604.8 557.5,1598.7 573.6,1593.0 591.5,1578.5 605.0,1567.3 622.9,1552.7 634.1,1537.0 647.6,1514.6 661.0,1494.5 674.5,1477.6 686.8,1466.4 696.9,1467.1 705.8,1465.8 717.0,1468.0 728.2,1476.5 737.2,1484.4 746.2,1490.0 759.6,1502.3 773.1,1512.4 784.3,1518.0 797.7,1520.2 813.4,1520.2 831.3,1519.6 844.8,1522.5 860.4,1528.1 873.9,1532.1 889.6,1532.6 903.0,1533.7 916.5,1538.2 930.8,1544.7 951.4,1546.9 969.3,1548.5 987.2,1554.1 998.4,1556.8 1009.6,1556.4 1025.3,1558.6 1033.2,1568.7 1047.7,1569.1 1054.5,1575.4 1067.9,1581.0 1076.9,1584.4 1085.8,1585.5 1097.0,1590.0 1104.9,1595.1 1126.2,1596.2 1132.9,1600.7 1157.5,1601.2 1175.5,1602.3 1184.4,1607.5 1206.8,1607.5 1229.2,1606.8 1247.2,1606.8 1256.1,1608.3 1276.3,1606.8 1287.5,1603.4 1303.9,1604.5 1330.3,1603.4 1352.7,1607.9 1377.4,1614.6 1404.3,1614.6 1420.0,1610.1 1435.7,1607.9 1451.3,1602.3 1469.3,1597.8 1485.0,1593.3 1493.9,1590.0 1514.1,1587.7 1532.0,1584.4 1545.5,1582.1 1567.9,1582.8 1581.3,1583.7 1592.5,1582.1 1612.7,1585.0 1621.7,1584.4 1628.4,1587.7 1639.6,1583.7 1650.8,1578.8 1659.7,1573.2 1677.2,1573.7 1720.9,1571.4 1728.9,1574.2 1764.5,1573.7 1779.4,1567.9 1795.5,1565.7 1809.3,1561.1 1825.4,1560.6 1841.5,1557.6 1857.5,1557.6 1875.9,1558.3 1901.2,1557.6 1910.4,1553.0 1921.8,1556.0 1942.5,1556.5 1960.9,1559.2 1974.7,1559.9 1986.2,1562.2 1995.3,1562.9 2003.4,1567.5 2032.1,1568.0 2036.7,1571.4 2052.3,1574.2" fill="none" stroke="#000" stroke-width="7.5" stroke-linejoin="round"/>
</g>
<g filter="url(#soft)">
<polyline points="191.7,1658.0 203.4,1636.8 220.5,1630.4 223.6,1609.0 227.9,1581.4 235.4,1630.4 242.8,1590.0 248.1,1541.0 253.5,1466.5 257.7,1402.6 262.0,1376.0 266.2,1402.6 269.4,1449.4 271.6,1483.5 274.7,1458.0 277.9,1423.9 281.1,1466.5 284.3,1513.3 288.6,1551.6 292.8,1560.1 301.4,1558.0 306.7,1550.6 313.0,1562.3 319.5,1590.0 320.5,1612.3 329.0,1601.6 341.8,1600.6 350.3,1609.1 361.0,1611.2 371.6,1618.7 378.0,1607.0 386.5,1602.7 395.0,1613.4 405.7,1619.7 414.2,1624.0 424.8,1624.0 429.1,1615.5 434.4,1603.8 444.0,1594.2 450.4,1613.4 469.5,1607.0 486.6,1615.5 503.6,1605.9 520.6,1594.2 537.7,1584.6 557.5,1584.0 573.6,1572.9 578.1,1555.0 581.5,1534.8 588.2,1522.5 593.8,1555.0 597.1,1539.3 599.4,1501.2 607.2,1525.8 613.9,1516.9 622.9,1503.4 626.3,1481.0 629.6,1458.6 637.5,1427.2 643.1,1449.6 652.0,1481.0 654.3,1458.6 658.8,1427.2 667.7,1442.9 674.5,1433.9 680.0,1438.4 684.5,1458.6 689.0,1481.0 693.5,1498.9 701.3,1514.6 710.3,1522.5 723.8,1524.7 737.2,1524.7 746.2,1519.1 759.6,1514.6 773.1,1515.7 782.0,1523.6 793.2,1527.0 802.2,1525.8 810.0,1510.1 817.9,1525.8 831.3,1524.7 838.0,1537.0 849.2,1542.6 860.4,1551.6 871.6,1543.8 880.6,1530.3 889.6,1527.0 903.0,1527.0 912.0,1543.8 918.7,1561.7 930.8,1568.7 951.4,1564.2 962.6,1562.0 968.2,1549.6 976.0,1544.0 985.0,1560.8 991.7,1554.1 1002.9,1546.3 1009.6,1554.1 1015.2,1572.0 1018.6,1578.8 1029.8,1584.4 1041.0,1586.6 1045.5,1593.3 1061.2,1601.2 1072.4,1603.4 1079.1,1600.0 1090.3,1593.3 1099.3,1594.5 1110.5,1604.5 1130.6,1610.1 1139.6,1605.7 1146.3,1598.9 1155.3,1597.8 1166.5,1605.7 1184.4,1607.9 1211.3,1603.4 1224.8,1610.1 1233.7,1603.4 1242.7,1607.9 1256.1,1614.6 1265.1,1600.0 1274.1,1597.8 1287.5,1594.5 1303.9,1608.0 1330.3,1607.9 1339.3,1616.9 1352.7,1625.8 1363.9,1623.6 1375.2,1612.4 1388.6,1606.8 1406.5,1601.2 1417.7,1595.6 1426.7,1594.5 1437.9,1602.3 1453.6,1593.3 1462.5,1584.4 1471.5,1573.2 1478.2,1590.0 1487.2,1582.1 1500.6,1584.4 1514.1,1582.1 1523.1,1574.3 1533.1,1564.2 1541.0,1574.3 1547.7,1585.5 1554.4,1596.7 1565.6,1585.5 1576.8,1596.7 1585.8,1588.9 1597.0,1594.5 1608.2,1596.7 1614.9,1585.5 1621.7,1565.3 1630.6,1567.6 1644.1,1563.1 1657.5,1563.5 1677.2,1573.7 1696.8,1572.5 1707.1,1594.4 1717.4,1577.1 1735.8,1570.3 1751.9,1569.1 1758.8,1565.7 1770.2,1557.6 1784.0,1562.2 1804.7,1557.6 1824.2,1553.7 1834.6,1561.1 1843.8,1564.5 1850.6,1554.2 1862.1,1558.8 1872.5,1564.5 1880.5,1555.3 1889.7,1549.6 1898.9,1548.4 1908.1,1551.9 1917.3,1559.9 1924.1,1565.7 1935.6,1563.4 1949.4,1566.8 1963.2,1563.4 1977.0,1568.0 1986.2,1572.5 1997.6,1577.1 2006.8,1580.6 2016.0,1579.4 2025.2,1588.6 2039.0,1596.7 2052.3,1585.2" fill="none" stroke="#64788f" stroke-width="5.7" stroke-dasharray="23.5 17.5" stroke-linejoin="round"/>
<circle cx="557.5" cy="1584.0" r="14.3" fill="#64788f" stroke="#fff" stroke-width="2.4"/>
<circle cx="931.0" cy="1569.0" r="14.3" fill="#64788f" stroke="#fff" stroke-width="2.4"/>
<circle cx="1303.8" cy="1608.0" r="14.3" fill="#64788f" stroke="#fff" stroke-width="2.4"/>
<circle cx="2052.3" cy="1585.2" r="14.3" fill="#64788f" stroke="#fff" stroke-width="2.4"/>
<polyline points="191.7,1660.2 211.9,1657.0 222.6,1651.7 229.0,1645.3 241.7,1636.8 250.3,1624.0 257.7,1602.7 264.1,1583.5 271.5,1570.8 277.9,1555.9 286.5,1545.2 299.2,1534.6 314.1,1522.9 321.6,1526.1 329.0,1522.9 337.5,1523.9 345.0,1529.3 350.3,1541.0 357.8,1562.3 365.2,1572.9 372.7,1587.8 380.1,1593.1 392.9,1599.5 407.8,1608.7 420.6,1611.7 435.5,1612.9 452.5,1612.3 469.5,1611.2 486.6,1613.4 503.6,1612.3 524.9,1608.0 541.9,1604.8 557.5,1598.7 573.6,1593.0 591.5,1578.5 605.0,1567.3 622.9,1552.7 634.1,1537.0 647.6,1514.6 661.0,1494.5 674.5,1477.6 686.8,1466.4 696.9,1467.1 705.8,1465.8 717.0,1468.0 728.2,1476.5 737.2,1484.4 746.2,1490.0 759.6,1502.3 773.1,1512.4 784.3,1518.0 797.7,1520.2 813.4,1520.2 831.3,1519.6 844.8,1522.5 860.4,1528.1 873.9,1532.1 889.6,1532.6 903.0,1533.7 916.5,1538.2 930.8,1544.7 951.4,1546.9 969.3,1548.5 987.2,1554.1 998.4,1556.8 1009.6,1556.4 1025.3,1558.6 1033.2,1568.7 1047.7,1569.1 1054.5,1575.4 1067.9,1581.0 1076.9,1584.4 1085.8,1585.5 1097.0,1590.0 1104.9,1595.1 1126.2,1596.2 1132.9,1600.7 1157.5,1601.2 1175.5,1602.3 1184.4,1607.5 1206.8,1607.5 1229.2,1606.8 1247.2,1606.8 1256.1,1608.3 1276.3,1606.8 1287.5,1603.4 1303.9,1604.5 1330.3,1603.4 1352.7,1607.9 1377.4,1614.6 1404.3,1614.6 1420.0,1610.1 1435.7,1607.9 1451.3,1602.3 1469.3,1597.8 1485.0,1593.3 1493.9,1590.0 1514.1,1587.7 1532.0,1584.4 1545.5,1582.1 1567.9,1582.8 1581.3,1583.7 1592.5,1582.1 1612.7,1585.0 1621.7,1584.4 1628.4,1587.7 1639.6,1583.7 1650.8,1578.8 1659.7,1573.2 1677.2,1573.7 1720.9,1571.4 1728.9,1574.2 1764.5,1573.7 1779.4,1567.9 1795.5,1565.7 1809.3,1561.1 1825.4,1560.6 1841.5,1557.6 1857.5,1557.6 1875.9,1558.3 1901.2,1557.6 1910.4,1553.0 1921.8,1556.0 1942.5,1556.5 1960.9,1559.2 1974.7,1559.9 1986.2,1562.2 1995.3,1562.9 2003.4,1567.5 2032.1,1568.0 2036.7,1571.4 2052.3,1574.2" fill="none" stroke="#0a2240" stroke-width="6.1" stroke-linejoin="round" stroke-linecap="round"/>
<path d="M557.5 1584.3 L571.9 1598.7 L557.5 1613.1 L543.1 1598.7 Z" fill="#0a2240" stroke="#fff" stroke-width="3"/>
<path d="M931.0 1530.4 L945.4 1544.8 L931.0 1559.2 L916.6 1544.8 Z" fill="#0a2240" stroke="#fff" stroke-width="3"/>
<path d="M1303.8 1590.1 L1318.2 1604.5 L1303.8 1618.9 L1289.4 1604.5 Z" fill="#0a2240" stroke="#fff" stroke-width="3"/>
<path d="M1677.2 1559.3 L1691.6 1573.7 L1677.2 1588.1 L1662.8 1573.7 Z" fill="#0a2240" stroke="#fff" stroke-width="3"/>
<path d="M2052.3 1559.8 L2066.7 1574.2 L2052.3 1588.6 L2037.9 1574.2 Z" fill="#0a2240" stroke="#fff" stroke-width="3"/>
</g>
<line x1="740" y1="1814.6" x2="763" y2="1814.6" stroke="#64788f" stroke-width="5.5"/>
<text x="790.3" y="1825.2" font-size="38" font-weight="bold" fill="#333">7-Day Median</text>
<line x1="1080" y1="1814.6" x2="1117" y2="1814.6" stroke="#0a2240" stroke-width="5"/>
<text x="1129" y="1825.2" font-size="38" font-weight="bold" fill="#333">90-Day Median</text>
</g>
</svg>
</body></html>
